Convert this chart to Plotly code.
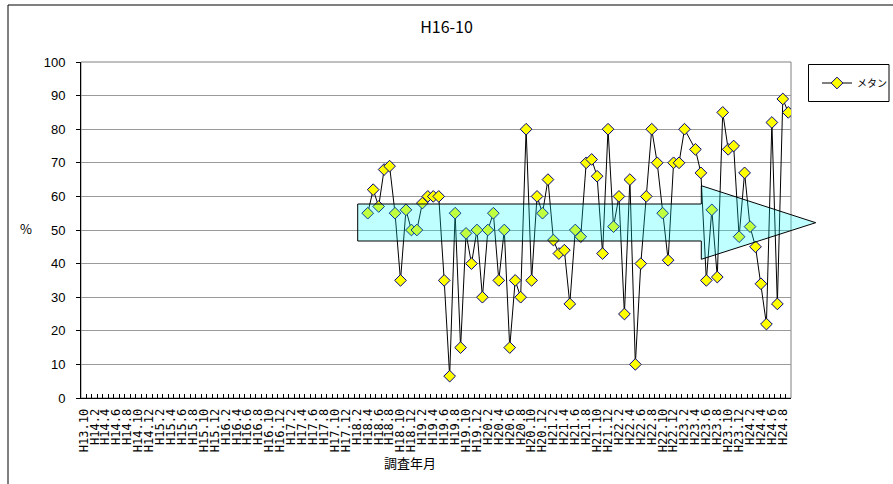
import plotly.graph_objects as go

# ---------------- data ----------------
# category axis: H13.10, then monthly from H14.1 to H24.9
categories = ["H13.10"] + [f"H{y}.{m}" for y in range(14, 25) for m in range(1, 13)]
categories = categories[: categories.index("H24.9") + 1]

# tick labels shown on every second category
tick_labels = [c if i % 2 == 0 else "" for i, c in enumerate(categories)]

series_name = "メタン"
start_month = "H18.4"
methane = [
    55, 62, 57, 68, 69, 55, 35, 56, 50,          # H18.4 - H18.12
    50, 58, 60, 60, 60, 35, 6.5, 55, 15, 49, 40, 50,   # H19
    30, 50, 55, 35, 50, 15, 35, 30, 80, 35, 60, 55,    # H20
    65, 47, 43, 44, 28, 50, 48, 70, 71, 66, 43, 80,    # H21
    51, 60, 25, 65, 10, 40, 60, 80, 70, 55, 41, 70,    # H22
    70, 80, None, 74, 67, 35, 56, 36, 85, 74, 75, 48,  # H23
    67, 51, 45, 34, 22, 82, 28, 89, 85,                # H24.1 - H24.9
]
s = categories.index(start_month)
x_vals = categories[s: s + len(methane)]

# ---------------- layout geometry (pixels) ----------------
W, H = 893, 484
L, R, T, B = 81, 102, 62, 86
PW, PH = W - L - R, H - T - B


def px(x):
    return (x - L) / PW


def py(y):
    return (H - B - y) / PH


fig = go.Figure()

fig.add_trace(go.Scatter(
    x=x_vals, y=methane, name=series_name, mode="lines+markers",
    connectgaps=True,
    line=dict(color="black", width=1),
    marker=dict(symbol="diamond", size=9, color="#FFFF00",
                line=dict(color="#000080", width=1)),
))

arrow_pts = [(357.7, 204), (701.3, 204), (701.3, 185.7), (815.7, 222.7),
             (701.3, 259.3), (701.3, 241), (357.7, 241)]
path = "M " + " L ".join(f"{px(a):.5f},{py(b):.5f}" for a, b in arrow_pts) + " Z"

shapes = [
    # outer chart border
    dict(type="rect", xref="paper", yref="paper", x0=px(8), y0=py(5), x1=px(905), y1=py(495),
         line=dict(color="black", width=1), layer="below"),
    # plot-area frame
    dict(type="rect", xref="paper", yref="paper", x0=0, y0=0, x1=1, y1=1,
         line=dict(color="#808080", width=1), layer="below"),
    # legend box
    dict(type="rect", xref="paper", yref="paper", x0=px(808.5), y0=py(101.5), x1=px(889), y1=py(64.5),
         line=dict(color="black", width=1), layer="above"),
    # translucent arrow on top
    dict(type="path", xref="paper", yref="paper", path=path,
         fillcolor="rgba(0,255,255,0.25)", line=dict(color="black", width=1), layer="above"),
]

annotations = [
    dict(text="%", xref="paper", yref="paper", x=px(18), y=py(228), showarrow=False,
         font=dict(size=13, color="black", family="Noto Sans CJK JP")),
    dict(text="調査年月", xref="paper", yref="paper", x=px(410), y=py(474), showarrow=False,
         font=dict(size=13, color="black", family="Noto Sans CJK JP")),
]

fig.update_layout(
    width=W, height=H,
    margin=dict(l=L, r=R, t=T, b=B, autoexpand=False),
    paper_bgcolor="white", plot_bgcolor="white",
    title=dict(text="H16-10", x=0.5, xanchor="center", y=1 - 27 / H, yanchor="middle",
               font=dict(size=16, color="black", family="Noto Sans CJK JP")),
    showlegend=True,
    legend=dict(x=px(817), y=py(83), xanchor="left", yanchor="middle",
                borderwidth=0, bgcolor="rgba(0,0,0,0)",
                font=dict(size=10, color="black", family="Noto Sans CJK JP")),
    shapes=shapes, annotations=annotations,
    xaxis=dict(type="category", categoryorder="array", categoryarray=categories,
               range=[-0.5, len(categories) - 0.5],
               tickmode="array", tickvals=categories, ticktext=tick_labels,
               tickson="boundaries", ticks="inside", ticklen=4, tickcolor="black",
               tickangle=-90, showgrid=False, showline=True, linecolor="black",
               ticklabelstandoff=5,
               tickfont=dict(size=12, color="black", family="DejaVu Sans Mono"),
               zeroline=False),
    yaxis=dict(range=[0, 100], dtick=10, ticks="outside", ticklen=4, tickcolor="black",
               showline=True, linecolor="black", showgrid=True, gridcolor="#9a9a9a",
               gridwidth=1, zeroline=False, ticklabelstandoff=8,
               tickfont=dict(size=13, color="black", family="Liberation Sans")),
)

fig.write_html("out.html", config={"displayModeBar": False},
               post_script="document.body.style.margin='0';document.body.style.overflow='hidden';")
